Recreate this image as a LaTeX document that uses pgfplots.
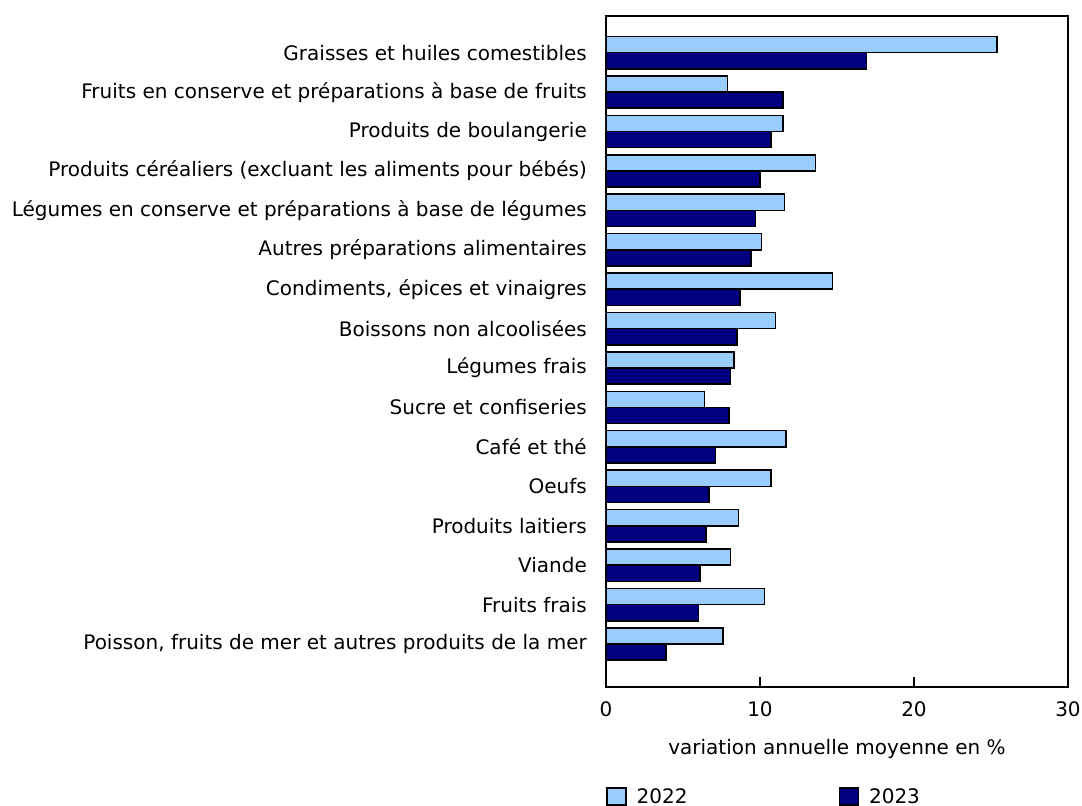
\documentclass[border=0pt]{standalone}
\usepackage{pgfplots}
\pgfplotsset{compat=1.18}
\usepackage{fontspec}
\setmainfont{DejaVu Sans}
\definecolor{c22}{HTML}{99CCFF}
\definecolor{c23}{HTML}{000080}
\newcommand\lbl{\fontsize{20}{24}\selectfont}

\begin{document}
\begin{tikzpicture}
% fixes the page to the reference frame (1 pt = 1 px)
\path[use as bounding box] (-606pt,-119pt) rectangle (476pt,687pt);
\begin{axis}[
    at={(0,0)}, anchor=south west,
    scale only axis,
    width=462pt, height=671pt,
    xbar, bar width=0.41,
    xmin=0, xmax=30,
    ymin=-1.09, ymax=15.93,
    axis line style={line width=1.5pt},
    xtick={0,10,20,30},
    xtick pos=bottom,
    tick align=inside,
    major tick length=10pt,
    xtick style={black, line width=1.5pt},
    ytick={0,...,15},
    ytick style={draw=none},
    yticklabels={
        {Poisson, fruits de mer et autres produits de la mer},
        Fruits frais,
        Viande,
        Produits laitiers,
        Oeufs,
        Café et thé,
        Sucre et confiseries,
        Légumes frais,
        Boissons non alcoolisées,
        {Condiments, épices et vinaigres},
        Autres préparations alimentaires,
        Légumes en conserve et préparations à base de légumes,
        Produits céréaliers (excluant les aliments pour bébés),
        Produits de boulangerie,
        Fruits en conserve et préparations à base de fruits,
        Graisses et huiles comestibles},
    yticklabel style={font=\lbl, inner sep=0pt, xshift=-19pt},
    xticklabel style={font=\lbl, inner sep=0pt, yshift=-14pt},
    /pgf/number format/assume math mode=true,
    xlabel={variation annuelle moyenne en \%},
    xlabel style={font=\lbl, at={(axis description cs:0.5,0)}, anchor=center, yshift=-62pt},
    legend image code/.code={\draw[#1, line width=1.5pt] (0pt,-8.5pt) rectangle (19pt,8.5pt);},
    legend style={at={(axis description cs:0,0)}, anchor=north west, yshift=-100pt,
        draw=none, inner sep=0pt, font=\lbl, legend columns=2,
        nodes={inner sep=0pt},
        /tikz/every odd column/.append style={column sep=10pt},
        /tikz/every even column/.append style={column sep=151pt}},
]
\addplot[fill=c22, draw=black, line width=1.5pt, bar shift=0.205] coordinates {
    (25.4,15) (7.9,14) (11.5,13) (13.6,12) (11.6,11) (10.1,10) (14.7,9) (11.0,8)
    (8.3,7) (6.4,6) (11.7,5) (10.7,4) (8.6,3) (8.1,2) (10.3,1) (7.6,0)
};
\addlegendentry{2022}
\addplot[fill=c23, draw=black, line width=1.5pt, bar shift=-0.205] coordinates {
    (16.9,15) (11.5,14) (10.7,13) (10.0,12) (9.7,11) (9.4,10) (8.7,9) (8.5,8)
    (8.1,7) (8.0,6) (7.1,5) (6.7,4) (6.5,3) (6.1,2) (6.0,1) (3.9,0)
};
\addlegendentry{2023}
\end{axis}
\end{tikzpicture}
\end{document}
